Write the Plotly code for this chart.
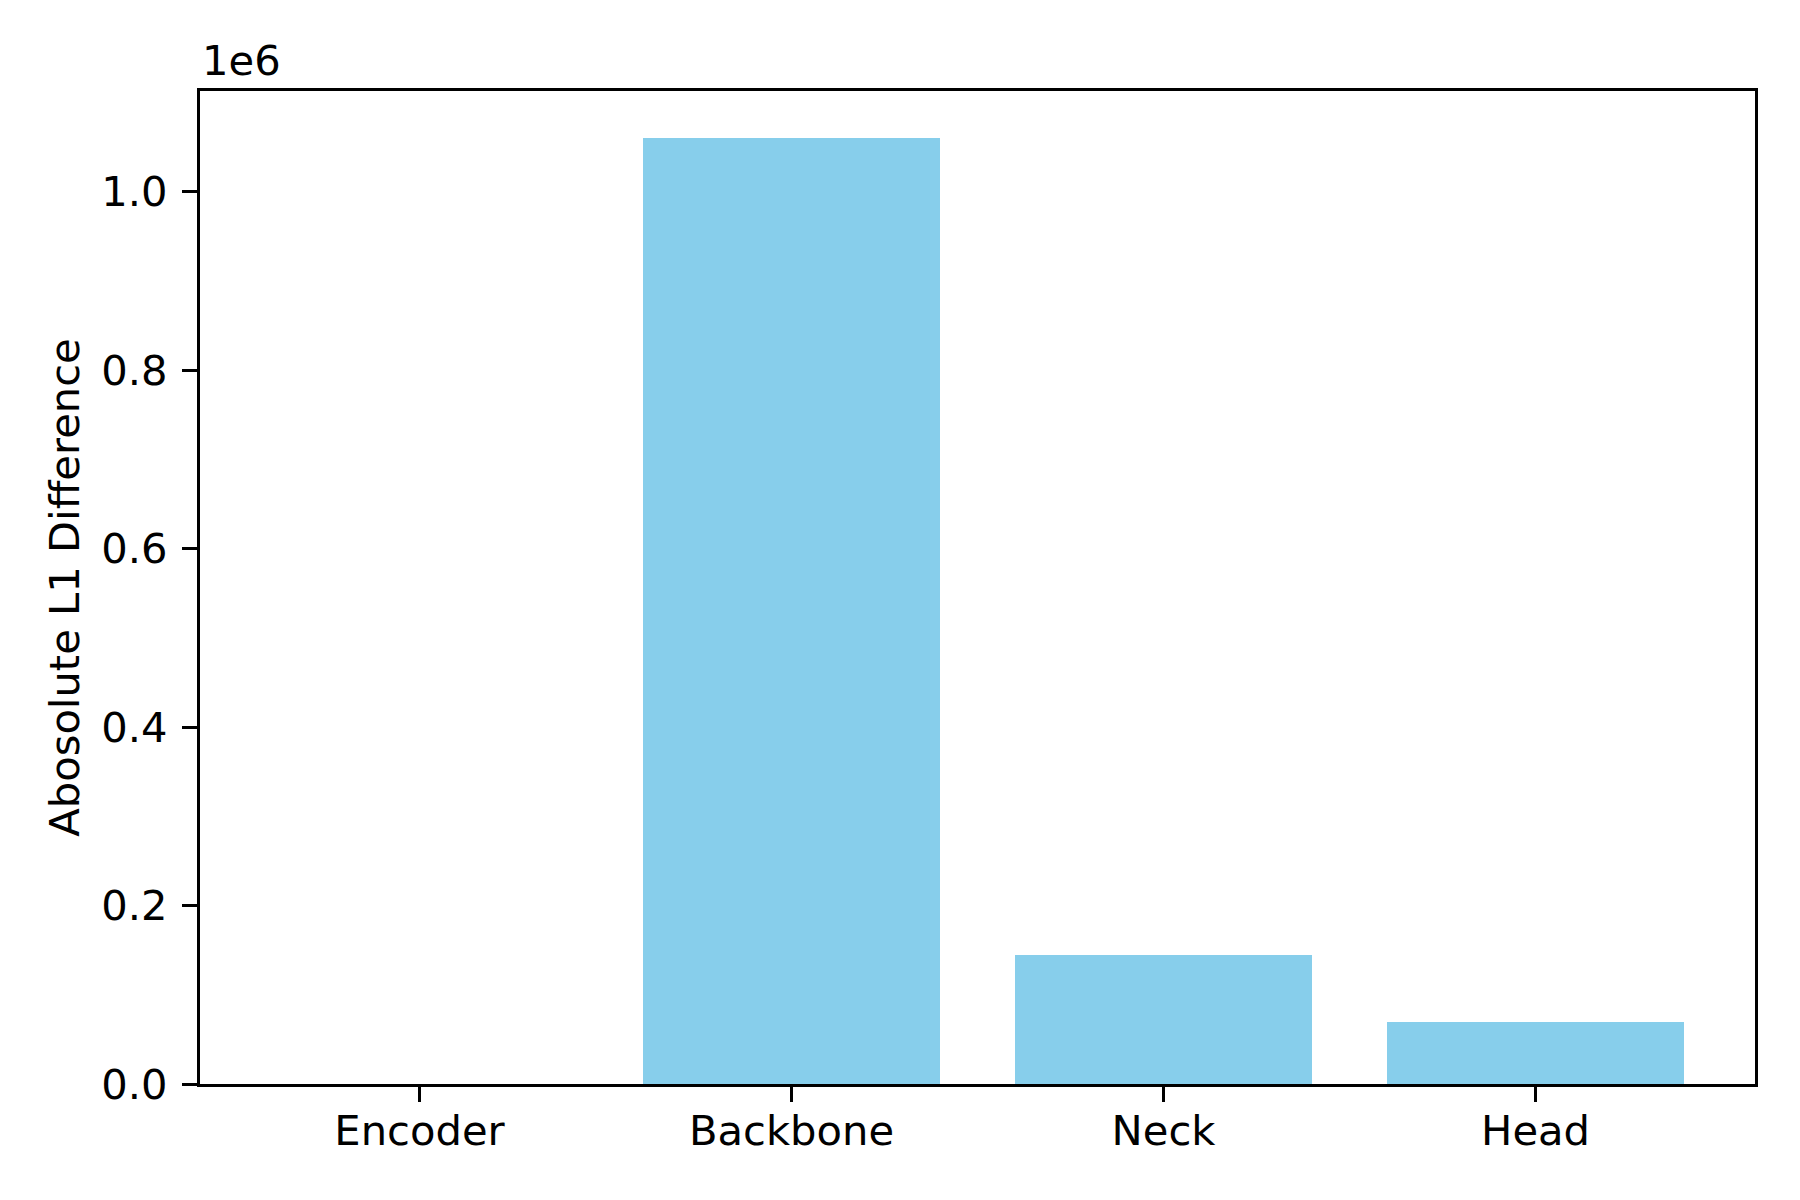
import plotly.graph_objects as go

categories = ["Encoder", "Backbone", "Neck", "Head"]
values = [0.0, 1.06e6, 0.1448e6, 0.0698e6]
y_tick_vals = [0, 0.2e6, 0.4e6, 0.6e6, 0.8e6, 1.0e6]
y_tick_text = ["0.0", "0.2", "0.4", "0.6", "0.8", "1.0"]

FONT = "DejaVu Sans"
FS = 41.67
LW = 3.33

fig = go.Figure()
fig.add_trace(go.Bar(
    x=list(range(len(categories))), y=values, width=0.8,
    marker=dict(color="#87CEEB", line=dict(width=0)),
))

ymax = max(values) * 1.05
fig.update_layout(
    width=1800, height=1200,
    paper_bgcolor="white", plot_bgcolor="white",
    margin=dict(l=192, r=53, t=83, b=124, autoexpand=False),
    font=dict(family=FONT, size=FS, color="black"),
    showlegend=False,
    bargap=0,
)
fig.update_xaxes(
    range=[-0.59, 3.59],
    tickvals=list(range(len(categories))), ticktext=categories,
    showline=True, linecolor="black", linewidth=LW, mirror=True,
    ticks="outside", ticklen=15, tickwidth=LW, tickcolor="black",
    showgrid=False, zeroline=False, ticklabelstandoff=-7,
    tickfont=dict(family=FONT, size=FS, color="black"),
)
fig.update_yaxes(
    range=[0, ymax],
    tickvals=y_tick_vals, ticktext=y_tick_text,
    showline=True, linecolor="black", linewidth=LW, mirror=True,
    ticks="outside", ticklen=15, tickwidth=LW, tickcolor="black",
    showgrid=False, zeroline=False, ticklabelstandoff=6,
    tickfont=dict(family=FONT, size=FS, color="black"),
    title=dict(text="Abosolute L1 Difference", standoff=9,
               font=dict(family=FONT, size=FS, color="black")),
)
fig.add_annotation(
    text="1e6", xref="paper", yref="paper", x=0, y=1,
    xanchor="left", yanchor="bottom", showarrow=False, yshift=4,
    font=dict(family=FONT, size=FS, color="black"),
)
fig.write_html("out.html")
